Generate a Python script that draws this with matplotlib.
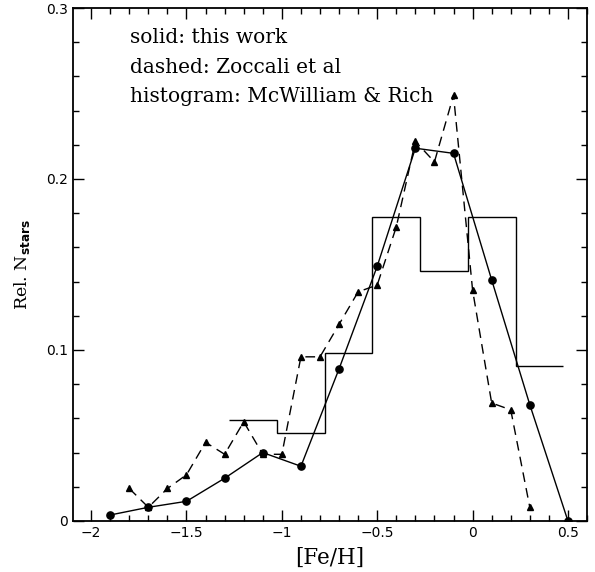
"""Metallicity distribution: this work vs Zoccali et al vs McWilliam & Rich."""

import matplotlib
matplotlib.use("Agg")
import matplotlib.pyplot as plt
from matplotlib.ticker import MultipleLocator

# --- this work (solid, filled circles) ---
feh_this = [-1.9, -1.7, -1.5, -1.3, -1.1, -0.9, -0.7, -0.5, -0.3, -0.1, 0.1, 0.3, 0.5]
n_this = [0.0035, 0.008, 0.0115, 0.025, 0.040, 0.032, 0.089, 0.149, 0.218, 0.215,
          0.141, 0.068, 0.0]

# --- Zoccali et al (dashed, triangles) ---
feh_zoc = [-1.8, -1.7, -1.6, -1.5, -1.4, -1.3, -1.2, -1.1, -1.0, -0.9, -0.8,
           -0.7, -0.6, -0.5, -0.4, -0.3, -0.2, -0.1, 0.0, 0.1, 0.2, 0.3]
n_zoc = [0.019, 0.008, 0.019, 0.027, 0.046, 0.039, 0.058, 0.039, 0.039, 0.096,
         0.096, 0.115, 0.134, 0.138, 0.172, 0.222, 0.210, 0.249, 0.135, 0.069,
         0.065, 0.008]

# --- McWilliam & Rich (histogram) ---
hist_edges = [-1.275, -1.025, -0.775, -0.525, -0.275, -0.025, 0.225, 0.475]
hist_vals = [0.059, 0.0515, 0.0985, 0.1775, 0.146, 0.1775, 0.0907]

LEGEND_LINES = [
    "solid: this work",
    "dashed: Zoccali et al",
    "histogram: McWilliam & Rich",
]

plt.rcParams["mathtext.fontset"] = "dejavusans"

fig = plt.figure(figsize=(5.95, 5.72), dpi=100)
ax = fig.add_axes([0.1227, 0.0892, 0.8639, 0.8968])

ax.plot(feh_this, n_this, color="black", lw=1.0, marker="o", ms=5.2,
        zorder=3)
ax.plot(feh_zoc, n_zoc, color="black", lw=1.0, ls=(0, (7, 4.5)), marker="^",
        ms=3.8, zorder=3)
ax.stairs(hist_vals, hist_edges, baseline=None, color="black", lw=1.0)

ax.set_xlim(-2.095, 0.6)
ax.set_ylim(0, 0.3)

ax.xaxis.set_minor_locator(MultipleLocator(0.1))
ax.yaxis.set_minor_locator(MultipleLocator(0.02))
ax.tick_params(which="both", direction="in", top=True, right=True,
               labelsize=10, width=1.0)
ax.tick_params(which="major", length=8)
ax.tick_params(which="minor", length=4)
for sp in ax.spines.values():
    sp.set_linewidth(1.3)

ax.set_xticks([-2, -1.5, -1, -0.5, 0, 0.5])
ax.set_xticklabels(["\u22122", "\u22121.5", "\u22121", "\u22120.5", "0", "0.5"])
ax.set_yticks([0, 0.1, 0.2, 0.3])
ax.set_yticklabels(["0", "0.1", "0.2", "0.3"])

ax.set_xlabel("[Fe/H]", family="DejaVu Serif", fontsize=15.5, labelpad=5)
ax.set_ylabel(r"Rel. N$_{\bf stars}$", family="DejaVu Serif", fontsize=12.5,
              labelpad=10)

for i, line in enumerate(LEGEND_LINES):
    ax.text(0.111, 0.942 - i * 0.0575, line, transform=ax.transAxes,
            family="DejaVu Serif", fontsize=14.5, va="center", ha="left")

fig.savefig("out.png", dpi=100)
plt.close(fig)
